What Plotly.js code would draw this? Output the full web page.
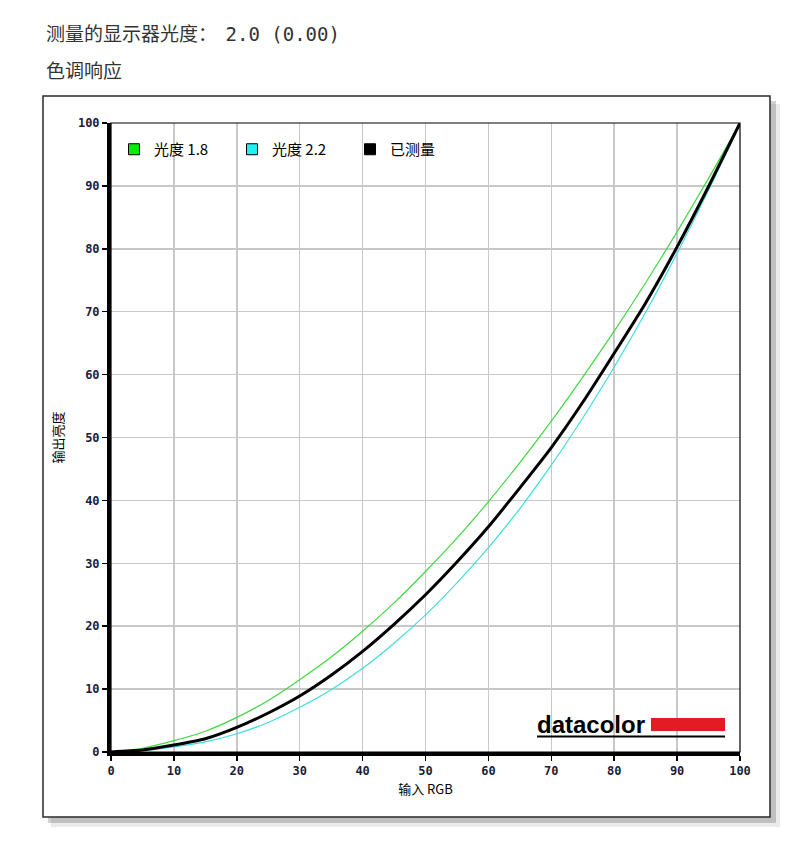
<!DOCTYPE html>
<html>
<head>
<meta charset="utf-8">
<script src="https://cdn.plot.ly/plotly-3.0.1.min.js"></script>
<style>
  body { margin: 0; background: #ffffff; }
  #myPlot { width: 800px; height: 860px; }
</style>
</head>
<body>
<div id="myPlot"></div>
<script>
// Tone response: measured curve against the gamma 1.8 and 2.2 references
var inputRGB   = [0, 5, 10, 15, 20, 25, 30, 35, 40, 45, 50, 55, 60, 65, 70, 75, 80, 85, 90, 95, 100];
var gamma18    = [0, 0.6, 1.8, 3.3, 5.5, 8.2, 11.5, 15.1, 19.2, 23.7, 28.7, 34.0, 39.8, 46.0, 52.6, 59.6, 66.9, 74.6, 82.7, 91.2, 100];
var gamma22    = [0, 0.2, 0.8, 1.6, 2.9, 4.7, 7.1, 9.9, 13.3, 17.3, 21.8, 26.9, 32.5, 38.7, 45.6, 53.1, 61.2, 69.9, 79.3, 89.3, 100];
var measured   = [0, 0.3, 1.1, 2.1, 3.9, 6.2, 8.9, 12.2, 16.0, 20.3, 25.0, 30.2, 35.8, 42.0, 48.4, 55.6, 63.4, 71.4, 80.3, 89.9, 100];
var tickVals   = [0, 10, 20, 30, 40, 50, 60, 70, 80, 90, 100];
var seriesName = ['光度 1.8', '光度 2.2', '已测量'];

var cjk  = '"Noto Sans CJK SC", sans-serif';
var mono = '"DejaVu Sans Mono", monospace';

function curve(y, color, width) {
    /* One line of the chart, legend handled by legendSwatch */
    return {
        x: inputRGB,
        y: y,
        mode: 'lines',
        line: { color: color, width: width, shape: 'spline', smoothing: 0.6 },
        showlegend: false,
        hoverinfo: 'x+y'
    };
}

function legendSwatch(name, fill) {
    /* Square legend entry, the reference shows filled boxes not line stubs */
    return {
        x: [null],
        y: [null],
        name: name,
        mode: 'markers',
        marker: { symbol: 'square', size: 11, color: fill, line: { color: '#000000', width: 1 } },
        showlegend: true
    };
}

var data = [
    curve(gamma18, '#3fd83f', 1.2),
    curve(gamma22, '#3fdede', 1.2),
    curve(measured, '#000000', 3),
    legendSwatch(seriesName[0], '#00ee00'),
    legendSwatch(seriesName[1], '#22f0f0'),
    legendSwatch(seriesName[2], '#000000')
];

// frame around the chart (paper coords, plot area is 629 px square)
function px(v) { return (v - 111) / 629; }
function py(v) { return (752 - v) / 629; }

var shapes = [
    // drop shadow
    { type: 'rect', xref: 'paper', yref: 'paper', layer: 'below',
      x0: px(51), x1: px(780), y0: py(104), y1: py(827),
      fillcolor: 'rgba(0,0,0,0.08)', line: { width: 0 } },
    { type: 'rect', xref: 'paper', yref: 'paper', layer: 'below',
      x0: px(48), x1: px(776), y0: py(101), y1: py(823),
      fillcolor: 'rgba(0,0,0,0.18)', line: { width: 0 } },
    // white frame
    { type: 'rect', xref: 'paper', yref: 'paper', layer: 'below',
      x0: px(43), x1: px(770), y0: py(96), y1: py(817),
      fillcolor: '#ffffff', line: { color: '#2a2a2a', width: 1.5 } },
    // thin top and right border of the plot
    { type: 'rect', xref: 'paper', yref: 'paper',
      x0: 0, x1: 1, y0: 0, y1: 1,
      line: { color: '#000000', width: 1.2 } },
    // datacolor logo: red bar and underline
    { type: 'rect', xref: 'paper', yref: 'paper',
      x0: px(651), x1: px(725), y0: py(731), y1: py(718),
      fillcolor: '#e31b23', line: { width: 0 } },
    { type: 'line', xref: 'paper', yref: 'paper',
      x0: px(537), x1: px(725), y0: py(736.5), y1: py(736.5),
      line: { color: '#000000', width: 2.2 } }
];

var annotations = [
    { text: '测量的显示器光度：  <span style="font-family:DejaVu Sans Mono">2.0 (0.00)</span>',
      xref: 'paper', yref: 'paper',
      x: px(44), y: py(33), xanchor: 'left', yanchor: 'middle', showarrow: false,
      font: { family: cjk, size: 19, color: '#333333' } },
    { text: '色调响应', xref: 'paper', yref: 'paper',
      x: px(44), y: py(70), xanchor: 'left', yanchor: 'middle', showarrow: false,
      font: { family: cjk, size: 19, color: '#333333' } },
    { text: '<b>datacolor</b>', xref: 'paper', yref: 'paper',
      x: px(535), y: py(724), xanchor: 'left', yanchor: 'middle', showarrow: false,
      font: { family: '"Liberation Sans", Arial, sans-serif', size: 24, color: '#000000' } }
];

var axisCommon = {
    range: [0, 100],
    tickvals: tickVals,
    ticks: 'outside',
    ticklen: 5,
    tickwidth: 1.5,
    tickcolor: '#000000',
    showline: true,
    linecolor: '#000000',
    linewidth: 4,
    showgrid: true,
    gridcolor: '#c8c8c8',
    gridwidth: 1.5,
    zeroline: false,
    fixedrange: true,
    tickfont: { family: mono, size: 12, weight: 'bold', color: '#1c1c3a' }
};

var layout = {
    width: 800,
    height: 860,
    margin: { l: 111, r: 60, t: 123, b: 108 },
    paper_bgcolor: '#ffffff',
    plot_bgcolor: 'rgba(0,0,0,0)',
    xaxis: Object.assign({}, axisCommon, {
        title: { text: '输入 RGB', standoff: 8, font: { family: cjk, size: 13, color: '#000000' } }
    }),
    yaxis: Object.assign({}, axisCommon, {
        title: { text: '输出亮度', standoff: 12, font: { family: cjk, size: 13, color: '#000000' } }
    }),
    legend: {
        orientation: 'h',
        x: px(114),
        y: py(133),
        xanchor: 'left',
        yanchor: 'top',
        entrywidth: 73,
        itemwidth: 30,
        bgcolor: 'rgba(0,0,0,0)',
        font: { family: cjk, size: 15, color: '#000000' }
    },
    shapes: shapes,
    annotations: annotations
};

var config = { displayModeBar: false, staticPlot: true };

Plotly.newPlot('myPlot', data, layout, config);
</script>
</body>
</html>
